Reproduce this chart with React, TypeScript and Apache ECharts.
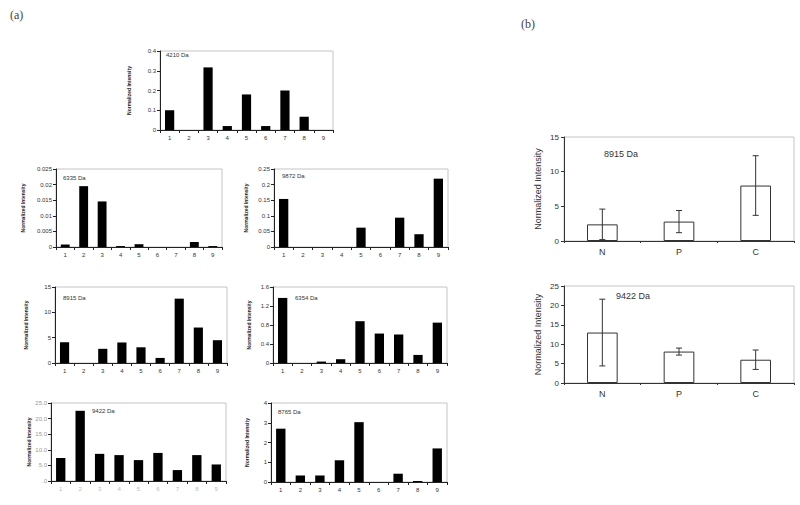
import React, { useEffect, useRef } from 'react';
import * as echarts from 'echarts';

// ---------- data ----------
const aCategories = ['1', '2', '3', '4', '5', '6', '7', '8', '9'];
const bCategories = ['N', 'P', 'C'];

const mz4210 = [0.1, 0, 0.317, 0.02, 0.18, 0.02, 0.2, 0.067, 0];
const mz6335 = [0.0008, 0.0195, 0.0146, 0.0003, 0.0009, 0, 0, 0.0016, 0.0003];
const mz9872 = [0.154, 0, 0, 0, 0.062, 0, 0.094, 0.041, 0.219];
const mz8915 = [4.1, 0, 2.8, 4.05, 3.1, 1.0, 12.7, 7.0, 4.5];
const mz6354 = [1.37, 0, 0.03, 0.08, 0.88, 0.62, 0.6, 0.17, 0.85];
const mz9422 = [7.4, 22.5, 8.7, 8.3, 6.7, 9.0, 3.5, 8.3, 5.3];
const mz8765 = [2.7, 0.33, 0.33, 1.1, 3.03, 0, 0.42, 0.05, 1.7];

const b8915Mean = [2.4, 2.8, 8.0];
const b8915Err = [2.2, 1.6, 4.3];
const b9422Mean = [13.0, 8.1, 6.0];
const b9422Err = [8.6, 0.9, 2.5];

const FONT = '"Liberation Sans", Arial, sans-serif';

const fmt = (v: number) => String(+v.toFixed(4));
const fmtDot = (v: number) => (v === 0 ? '.0' : v.toFixed(1));

export default function App() {
  const ref = useRef<HTMLDivElement>(null);
  useEffect(() => {
    document.body.style.margin = '0';
    const chart = echarts.init(ref.current!, null, { renderer: 'svg' });

    const aPanels = [
      { label: '4210 Da', data: mz4210, max: 0.4, interval: 0.1, grid: { left: 160, top: 51, width: 173, height: 79 }, pos: [166, 52], gap: 32, f: fmt },
      { label: '6335 Da', data: mz6335, max: 0.025, interval: 0.005, grid: { left: 56, top: 169, width: 166, height: 78 }, pos: [63, 175], gap: 34, f: fmt },
      { label: '9872 Da', data: mz9872, max: 0.25, interval: 0.05, grid: { left: 274, top: 169, width: 174, height: 78 }, pos: [282, 173], gap: 29, f: fmt },
      { label: '8915 Da', data: mz8915, max: 15, interval: 5, grid: { left: 55, top: 287, width: 172, height: 76 }, pos: [63, 295], gap: 30, f: fmt },
      { label: '6354 Da', data: mz6354, max: 1.6, interval: 0.4, grid: { left: 273, top: 287, width: 174, height: 76 }, pos: [295, 295], gap: 25, f: fmt },
      { label: '9422 Da', data: mz9422, max: 25, interval: 5, grid: { left: 51, top: 403, width: 175, height: 78 }, pos: [92, 408], gap: 21, f: fmtDot, faint: true },
      { label: '8765 Da', data: mz8765, max: 4, interval: 1, grid: { left: 271, top: 403, width: 176, height: 79 }, pos: [278, 409], gap: 25, f: fmt },
    ];

    const bPanels = [
      { label: '8915 Da', mean: b8915Mean, err: b8915Err, max: 15, interval: 5, grid: { left: 564, top: 137, width: 230, height: 104 }, pos: [604, 149] },
      { label: '9422 Da', mean: b9422Mean, err: b9422Err, max: 25, interval: 5, grid: { left: 564, top: 286, width: 230, height: 97 }, pos: [616, 291] },
    ];

    const grids: any[] = [];
    const xAxes: any[] = [];
    const yAxes: any[] = [];
    const series: any[] = [];
    const graphics: any[] = [
      { type: 'text', left: 10, top: 9, style: { text: '(a)', fontSize: 12, fontFamily: 'serif', fill: '#444' } },
      { type: 'text', left: 521, top: 18, style: { text: '(b)', fontSize: 12, fontFamily: 'serif', fill: '#444' } },
    ];

    aPanels.forEach((p, i) => {
      grids.push({ ...p.grid, show: true, borderColor: '#c4c4c4', borderWidth: 1, containLabel: false });
      xAxes.push({
        type: 'category', gridIndex: i, data: aCategories,
        axisLine: { lineStyle: { color: '#222', width: 1 } },
        axisTick: { show: true, length: 3, lineStyle: { color: '#222' } },
        axisLabel: { fontSize: 6, margin: 5, color: p.faint ? '#bbb' : '#333', fontFamily: FONT },
      });
      yAxes.push({
        type: 'value', gridIndex: i, min: 0, max: p.max, interval: p.interval,
        name: 'Normalized Intensity', nameLocation: 'middle', nameRotate: 90, nameGap: p.gap - 3,
        nameTextStyle: { fontSize: 5, fontWeight: 'bold', color: '#222', fontFamily: FONT },
        axisLine: { show: true, lineStyle: { color: '#222', width: 1 } },
        axisTick: { show: true, length: 3, lineStyle: { color: '#222' } },
        splitLine: { show: false },
        axisLabel: { fontSize: 6, margin: 4, color: p.faint ? '#999' : '#333', fontFamily: FONT, formatter: p.f },
      });
      series.push({
        type: 'bar', xAxisIndex: i, yAxisIndex: i, data: p.data, barWidth: '48%',
        itemStyle: { color: '#000' },
      });
      graphics.push({ type: 'text', left: p.pos[0], top: p.pos[1], style: { text: p.label, fontSize: 6, fill: '#333', fontFamily: FONT } });
    });

    bPanels.forEach((p, j) => {
      const i = aPanels.length + j;
      grids.push({ ...p.grid, show: true, borderColor: '#c4c4c4', borderWidth: 1, containLabel: false });
      xAxes.push({
        type: 'category', gridIndex: i, data: bCategories,
        axisLine: { lineStyle: { color: '#333', width: 1 } },
        axisTick: { show: true, length: 2, lineStyle: { color: '#333' } },
        axisLabel: { fontSize: 9, margin: 6, color: '#333', fontFamily: FONT },
      });
      yAxes.push({
        type: 'value', gridIndex: i, min: 0, max: p.max, interval: p.interval,
        name: 'Normalized Intensity', nameLocation: 'middle', nameRotate: 90, nameGap: 22,
        nameTextStyle: { fontSize: 9, color: '#333', fontFamily: FONT },
        axisLine: { show: true, lineStyle: { color: '#333', width: 1 } },
        axisTick: { show: true, length: 3, lineStyle: { color: '#333' } },
        splitLine: { show: false },
        axisLabel: { fontSize: 8, margin: 5, color: '#333', fontFamily: FONT },
      });
      series.push({
        type: 'bar', xAxisIndex: i, yAxisIndex: i, data: p.mean, barWidth: '40%',
        itemStyle: { color: '#fff', borderColor: '#333', borderWidth: 1 },
      });
      series.push({
        type: 'custom', xAxisIndex: i, yAxisIndex: i, coordinateSystem: 'cartesian2d',
        data: p.mean.map((m, k) => [k, Math.max(0, m - p.err[k]), m + p.err[k]]),
        encode: { x: 0, y: [1, 2] },
        renderItem: (_params: any, api: any) => {
          const x = api.value(0);
          const lo = api.coord([x, api.value(1)]);
          const hi = api.coord([x, api.value(2)]);
          const cw = 3;
          const style = { stroke: '#333', lineWidth: 1 };
          return {
            type: 'group',
            children: [
              { type: 'line', shape: { x1: lo[0], y1: lo[1], x2: hi[0], y2: hi[1] }, style },
              { type: 'line', shape: { x1: hi[0] - cw, y1: hi[1], x2: hi[0] + cw, y2: hi[1] }, style },
              { type: 'line', shape: { x1: lo[0] - cw, y1: lo[1], x2: lo[0] + cw, y2: lo[1] }, style },
            ],
          };
        },
        z: 5,
      });
      graphics.push({ type: 'text', left: p.pos[0], top: p.pos[1], style: { text: p.label, fontSize: 9, fill: '#333', fontFamily: FONT } });
    });

    chart.setOption({
      animation: false,
      backgroundColor: '#fff',
      grid: grids,
      xAxis: xAxes,
      yAxis: yAxes,
      series,
      graphic: graphics,
    });
    return () => chart.dispose();
  }, []);
  return <div ref={ref} style={{ width: 800, height: 505 }} />;
}
